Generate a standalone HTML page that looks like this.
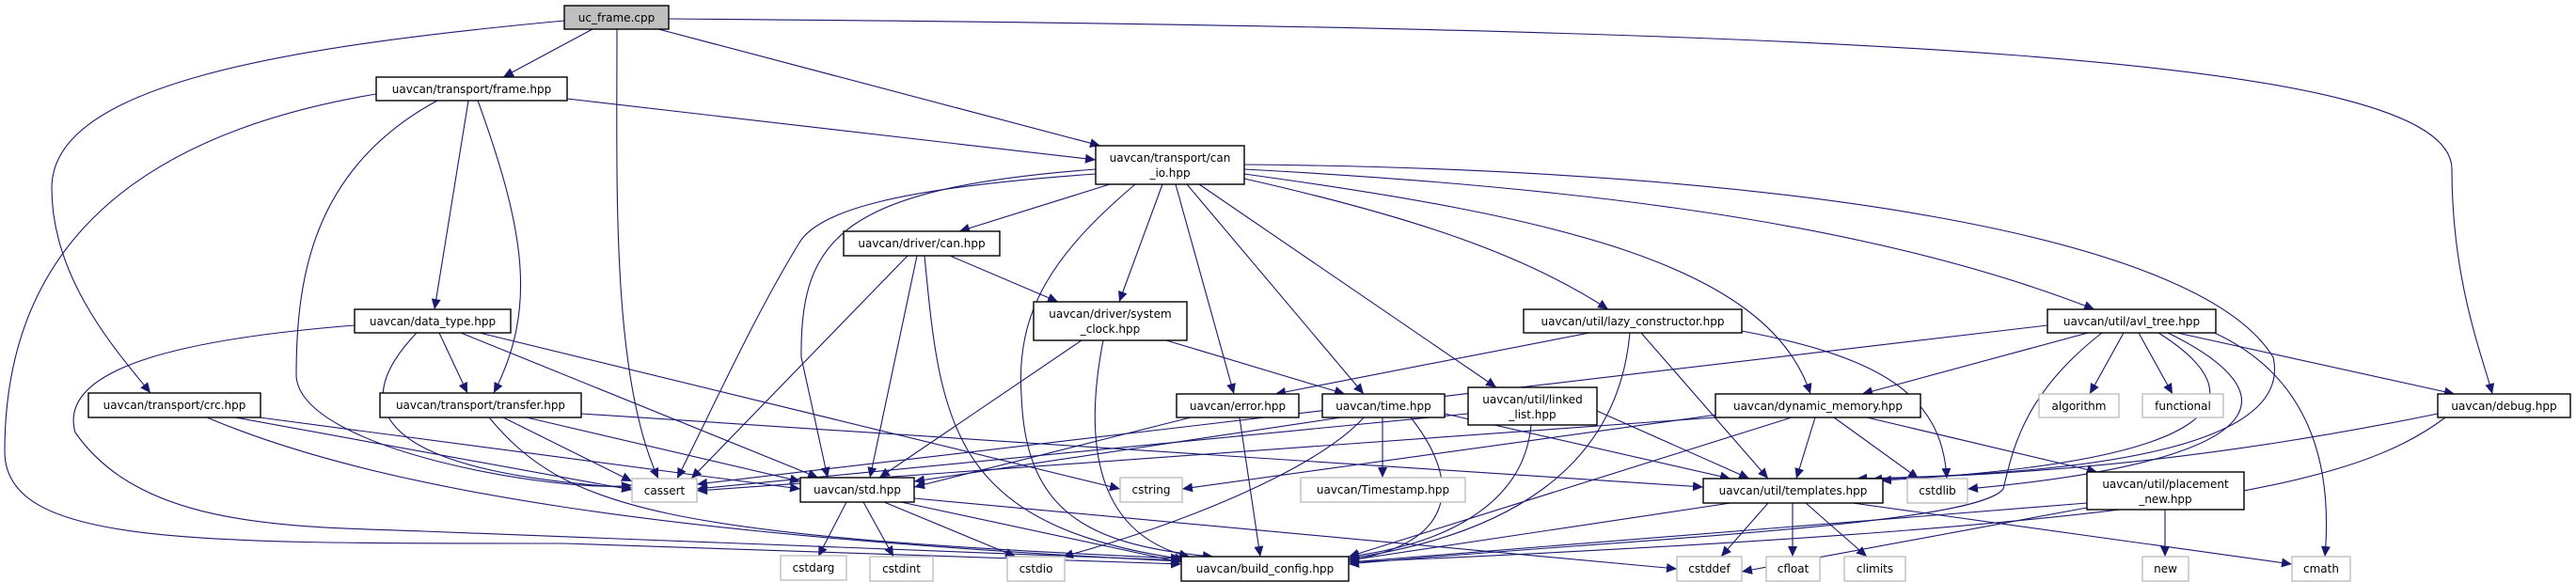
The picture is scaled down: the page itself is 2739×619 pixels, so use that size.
<!DOCTYPE html>
<html><head><meta charset="utf-8"><style>
html,body{margin:0;padding:0;background:#fff;}
svg{display:block;}
text{font-family:"DejaVu Sans","Liberation Sans",sans-serif;font-size:12px;fill:#000;}
.n{fill:#fff;stroke:#000;stroke-width:1.4;}
.g{fill:#fff;stroke:#bfbfbf;stroke-width:1.4;}
.e{fill:none;stroke:#191970;stroke-width:1.1;marker-end:url(#a);}
</style></head><body>
<svg width="2739" height="619" viewBox="0 0 2739 619" xmlns="http://www.w3.org/2000/svg">
<defs><marker id="a" markerUnits="userSpaceOnUse" markerWidth="12" markerHeight="10" refX="11" refY="5" orient="auto"><path d="M0,0 L11,5 L0,10 z" fill="#191970"/></marker></defs>
<g>
<path class="e" d="M630 31 L535 82"/>
<path class="e" d="M600 22 C300 50,55 90,55 200 C55 300,130 380,160 418"/>
<path class="e" d="M656 31 C656 200,650 400,700 509"/>
<path class="e" d="M700 31 L1170 155"/>
<path class="e" d="M711 20 C2000 30,2607 60,2607 180 C2607 300,2640 380,2650 419"/>
<path class="e" d="M603 105 L1165 170"/>
<path class="e" d="M498 107 L462 329"/>
<path class="e" d="M508 107 C560 250,570 330,525 418"/>
<path class="e" d="M465 107 C330 180,315 300,315 400 C320 480,600 525,672 516"/>
<path class="e" d="M400 100 C100 150,5 300,5 480 C5 580,200 578,600 578 L1256 600"/>
<path class="e" d="M1180 196 L1020 246"/>
<path class="e" d="M1236 196 L1190 321"/>
<path class="e" d="M1250 196 L1312 419"/>
<path class="e" d="M1262 196 L1450 419"/>
<path class="e" d="M1275 196 L1591 412"/>
<path class="e" d="M1323 190 C1500 230,1620 270,1710 329"/>
<path class="e" d="M1323 185 C1650 230,1880 280,1925 419"/>
<path class="e" d="M1323 180 C1700 200,2000 240,2227 329"/>
<path class="e" d="M1323 175 C1900 180,2339 250,2417 380 C2440 480,2200 505,1974 509"/>
<path class="e" d="M1165 180 C900 200,850 250,852 380 L880 508"/>
<path class="e" d="M1165 185 C950 200,870 225,850 258 C800 340,760 430,720 509"/>
<path class="e" d="M1207 196 C1120 270,1080 330,1086 420 C1090 540,1150 580,1290 592"/>
<path class="e" d="M1010 272 L1125 321"/>
<path class="e" d="M975 272 L925 508"/>
<path class="e" d="M965 272 L735 509"/>
<path class="e" d="M983 272 C1000 450,1010 560,1260 595"/>
<path class="e" d="M1240 362 L1430 419"/>
<path class="e" d="M1150 362 L935 508"/>
<path class="e" d="M1173 362 C1150 480,1170 570,1265 592"/>
<path class="e" d="M467 354 L497 418"/>
<path class="e" d="M490 354 L870 508"/>
<path class="e" d="M510 354 L1191 520"/>
<path class="e" d="M443 354 C380 420,370 500,672 519"/>
<path class="e" d="M377 346 C200 360,60 390,80 460 C150 560,300 560,450 565 L1256 596"/>
<path class="e" d="M250 444 L672 521"/>
<path class="e" d="M276 444 L851 520"/>
<path class="e" d="M220 444 C400 520,700 570,1256 597"/>
<path class="e" d="M618 440 L1811 518"/>
<path class="e" d="M535 444 L672 512"/>
<path class="e" d="M560 444 L851 512"/>
<path class="e" d="M520 444 C600 540,700 570,1256 594"/>
<path class="e" d="M1266 444 L972 518"/>
<path class="e" d="M1318 444 L1340 592"/>
<path class="e" d="M1426 444 L972 512"/>
<path class="e" d="M1450 444 C1400 500,1250 560,1130 592"/>
<path class="e" d="M1470 444 L1470 508"/>
<path class="e" d="M1500 444 C1560 520,1540 580,1434 596"/>
<path class="e" d="M1536 440 L1840 509"/>
<path class="e" d="M1698 437 L1860 509"/>
<path class="e" d="M1628 452 C1620 540,1530 580,1434 592"/>
<path class="e" d="M1561 440 L741 520"/>
<path class="e" d="M1690 354 L1356 419"/>
<path class="e" d="M1745 354 L1880 509"/>
<path class="e" d="M1733 354 C1720 500,1600 570,1434 594"/>
<path class="e" d="M1852 352 C2000 380,2065 420,2070 509"/>
<path class="e" d="M2220 354 L1980 419"/>
<path class="e" d="M2258 354 L2222 419"/>
<path class="e" d="M2274 354 L2310 419"/>
<path class="e" d="M2315 354 L2610 419"/>
<path class="e" d="M2350 352 C2460 400,2480 500,2472 592"/>
<path class="e" d="M2295 354 C2400 420,2380 490,2000 511"/>
<path class="e" d="M2305 354 C2440 420,2420 490,2092 520"/>
<path class="e" d="M2235 354 C2150 420,2140 480,2130 520 C2100 560,1700 575,1434 600"/>
<path class="e" d="M2177 346 L741 515"/>
<path class="e" d="M1824 444 L741 522"/>
<path class="e" d="M1826 441 L1257 520"/>
<path class="e" d="M1930 444 L1910 509"/>
<path class="e" d="M1950 444 L2040 509"/>
<path class="e" d="M1905 444 L1434 592"/>
<path class="e" d="M1985 444 L2230 502"/>
<path class="e" d="M2592 440 C2300 500,2100 505,1990 510"/>
<path class="e" d="M2600 444 C2500 520,2300 560,1434 598"/>
<path class="e" d="M900 534 L870 592"/>
<path class="e" d="M918 534 L950 592"/>
<path class="e" d="M940 534 L1080 592"/>
<path class="e" d="M958 534 L1256 598"/>
<path class="e" d="M972 530 L1783 605"/>
<path class="e" d="M1880 535 L1830 592"/>
<path class="e" d="M1906 535 L1906 592"/>
<path class="e" d="M1920 535 L1985 592"/>
<path class="e" d="M1970 535 L2437 600"/>
<path class="e" d="M1840 535 L1434 596"/>
<path class="e" d="M2302 542 L2302 592"/>
<path class="e" d="M2219 535 L1434 598"/>
<path class="e" d="M2219 540 L1852 608"/>
</g>
<g>
<rect x="600" y="6" width="111" height="25" fill="#bfbfbf" stroke="#000" stroke-width="1.4"/><text x="655.5" y="23" text-anchor="middle">uc_frame.cpp</text>
<rect class="n" x="400" y="82" width="203" height="25"/><text x="501.5" y="99" text-anchor="middle">uavcan/transport/frame.hpp</text>
<rect class="n" x="1165" y="155" width="158" height="41"/><text x="1244" y="172" text-anchor="middle">uavcan/transport/can</text><text x="1244" y="188" text-anchor="middle">_io.hpp</text>
<rect class="n" x="897" y="246" width="166" height="26"/><text x="980" y="263" text-anchor="middle">uavcan/driver/can.hpp</text>
<rect class="n" x="1099" y="321" width="163" height="41"/><text x="1180.5" y="338" text-anchor="middle">uavcan/driver/system</text><text x="1180.5" y="354" text-anchor="middle">_clock.hpp</text>
<rect class="n" x="1620" y="329" width="232" height="25"/><text x="1736" y="346" text-anchor="middle">uavcan/util/lazy_constructor.hpp</text>
<rect class="n" x="2177" y="329" width="179" height="25"/><text x="2266.5" y="346" text-anchor="middle">uavcan/util/avl_tree.hpp</text>
<rect class="n" x="377" y="329" width="166" height="25"/><text x="460" y="346" text-anchor="middle">uavcan/data_type.hpp</text>
<rect class="n" x="94" y="418" width="183" height="26"/><text x="185.5" y="435" text-anchor="middle">uavcan/transport/crc.hpp</text>
<rect class="n" x="404" y="418" width="214" height="26"/><text x="511" y="435" text-anchor="middle">uavcan/transport/transfer.hpp</text>
<rect class="n" x="1251" y="419" width="130" height="25"/><text x="1316" y="436" text-anchor="middle">uavcan/error.hpp</text>
<rect class="n" x="1406" y="419" width="130" height="25"/><text x="1471" y="436" text-anchor="middle">uavcan/time.hpp</text>
<rect class="n" x="1561" y="412" width="137" height="40"/><text x="1629.5" y="429" text-anchor="middle">uavcan/util/linked</text><text x="1629.5" y="445" text-anchor="middle">_list.hpp</text>
<rect class="n" x="1824" y="419" width="218" height="25"/><text x="1933" y="436" text-anchor="middle">uavcan/dynamic_memory.hpp</text>
<rect class="g" x="2168" y="419" width="85" height="25"/><text x="2210.5" y="436" text-anchor="middle">algorithm</text>
<rect class="g" x="2278" y="419" width="86" height="25"/><text x="2321" y="436" text-anchor="middle">functional</text>
<rect class="n" x="2592" y="419" width="141" height="25"/><text x="2662.5" y="436" text-anchor="middle">uavcan/debug.hpp</text>
<rect class="g" x="672" y="509" width="69" height="25"/><text x="706.5" y="526" text-anchor="middle">cassert</text>
<rect class="n" x="851" y="508" width="121" height="26"/><text x="911.5" y="525" text-anchor="middle">uavcan/std.hpp</text>
<rect class="g" x="1191" y="508" width="66" height="26"/><text x="1224" y="525" text-anchor="middle">cstring</text>
<rect class="g" x="1383" y="508" width="175" height="26"/><text x="1470.5" y="525" text-anchor="middle">uavcan/Timestamp.hpp</text>
<rect class="n" x="1811" y="509" width="191" height="26"/><text x="1906.5" y="526" text-anchor="middle">uavcan/util/templates.hpp</text>
<rect class="g" x="2028" y="509" width="64" height="26"/><text x="2060" y="526" text-anchor="middle">cstdlib</text>
<rect class="n" x="2219" y="502" width="167" height="40"/><text x="2302.5" y="519" text-anchor="middle">uavcan/util/placement</text><text x="2302.5" y="535" text-anchor="middle">_new.hpp</text>
<rect class="g" x="830" y="591" width="70" height="26"/><text x="865" y="608" text-anchor="middle">cstdarg</text>
<rect class="g" x="925" y="592" width="67" height="26"/><text x="958.5" y="609" text-anchor="middle">cstdint</text>
<rect class="g" x="1071" y="592" width="61" height="26"/><text x="1101.5" y="609" text-anchor="middle">cstdio</text>
<rect class="n" x="1256" y="592" width="178" height="26"/><text x="1345" y="609" text-anchor="middle">uavcan/build_config.hpp</text>
<rect class="g" x="1783" y="592" width="69" height="26"/><text x="1817.5" y="609" text-anchor="middle">cstddef</text>
<rect class="g" x="1878" y="592" width="57" height="26"/><text x="1906.5" y="609" text-anchor="middle">cfloat</text>
<rect class="g" x="1961" y="592" width="65" height="26"/><text x="1993.5" y="609" text-anchor="middle">climits</text>
<rect class="g" x="2278" y="592" width="49" height="26"/><text x="2302.5" y="609" text-anchor="middle">new</text>
<rect class="g" x="2437" y="592" width="62" height="26"/><text x="2468" y="609" text-anchor="middle">cmath</text>
</g>
</svg>
</body></html>
